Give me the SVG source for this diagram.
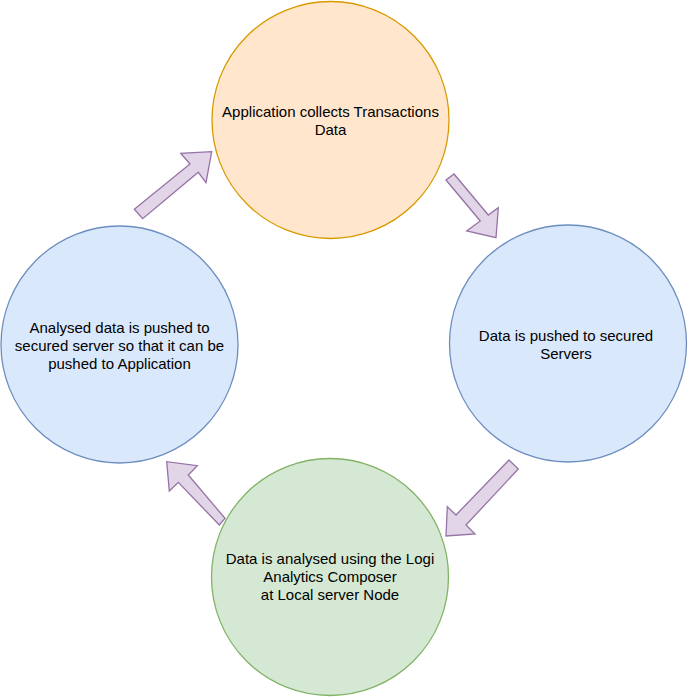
<svg xmlns="http://www.w3.org/2000/svg" width="690" height="699" viewBox="0 0 690 699">
<style>
.lbl{font-family:"Liberation Sans",Arial,sans-serif;font-size:15px;fill:#000;text-anchor:middle}
.arrow{fill:#e1d5e7;stroke:#9673a6;stroke-width:1.3;stroke-linejoin:miter}
</style>
<rect width="690" height="699" fill="#fff"/>
<g id="node-app">
<circle cx="330.5" cy="120" r="118.5" fill="#ffe6cc" stroke="#d79b00" stroke-width="1.3"/>
<text class="lbl" x="330.5" y="117">Application collects Transactions</text>
<text class="lbl" x="330.5" y="135">Data</text>
</g>
<g id="node-servers">
<circle cx="568" cy="343.5" r="118.5" fill="#dae8fc" stroke="#6c8ebf" stroke-width="1.3"/>
<text class="lbl" x="566" y="341">Data is pushed to secured</text>
<text class="lbl" x="566" y="359">Servers</text>
</g>
<g id="node-analyse">
<circle cx="330" cy="577" r="118.5" fill="#d5e8d4" stroke="#82b366" stroke-width="1.3"/>
<text class="lbl" x="330" y="564">Data is analysed using the Logi</text>
<text class="lbl" x="330" y="582">Analytics Composer</text>
<text class="lbl" x="330" y="600">at Local server Node</text>
</g>
<g id="node-push">
<circle cx="119.5" cy="344.5" r="118.5" fill="#dae8fc" stroke="#6c8ebf" stroke-width="1.3"/>
<text class="lbl" x="119.5" y="333">Analysed data is pushed to</text>
<text class="lbl" x="119.5" y="351">secured server so that it can be</text>
<text class="lbl" x="119.5" y="369">pushed to Application</text>
</g>
<g id="connectors">
<polygon class="arrow" points="134.3,209.3 190,164 180.7,153.3 211.7,151.7 206,182.7 198.3,172.3 142.7,218.7"/>
<polygon class="arrow" points="446,180 454,174 488.3,215 498.3,207.7 496,237.7 466.7,231 480.3,221"/>
<polygon class="arrow" points="509,460 518.3,469 466,525 475,534 446,536 447.3,506.7 456,515"/>
<polygon class="arrow" points="225,518.3 219.3,525 178.3,482.3 169.3,491 166.7,461.7 197.3,465.7 188.3,475"/>
</g>
</svg>
